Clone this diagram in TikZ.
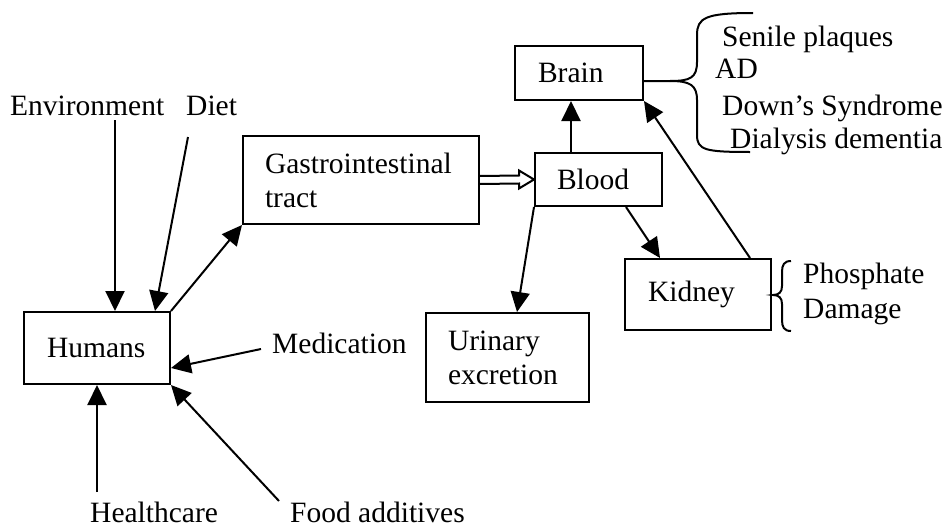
\documentclass[tikz,border=0pt]{standalone}
\usepackage{fontspec}
\setmainfont{Liberation Serif}
\usetikzlibrary{arrows.meta,calc}
\begin{document}
\begin{tikzpicture}[x=1pt,y=-1pt,
  txt/.style={font=\fontsize{29.5}{34}\selectfont, inner sep=0pt},
  box/.style={txt, draw, line width=2pt, align=left, inner ysep=0pt},
  lbl/.style={txt, anchor=base west},
  arr/.style={line width=2pt, -{Triangle[length=20pt,width=19pt]}},
  ln/.style={line width=2pt}]
\useasboundingbox (0,0) rectangle (949,527);

% boxes
\node[box, inner xsep=23pt, text width=100pt, minimum height=72pt] (hum) at (97,348) {Humans};
\node[box, inner xsep=22pt, text width=192pt, minimum height=88pt] (gi) at (361,180) {Gastrointestinal\\tract};
\node[box, inner xsep=22pt, text width=83pt, minimum height=53pt] (blood) at (598.5,179.5) {Blood};
\node[box, inner xsep=23pt, text width=82pt, minimum height=54pt] (brain) at (579,73) {Brain};
\node[box, inner xsep=23pt, text width=100pt, minimum height=71pt] (kid) at (698,294.5) {Kidney};
\node[box, inner xsep=22pt, text width=119pt, minimum height=89pt] (uri) at (507.5,357.5) {Urinary\\excretion};

% labels
\node[lbl] (env) at (10,115) {Environment};
\node[lbl] (diet) at (186,115) {Diet};
\node[lbl] (med) at (272,353) {Medication};
\node[lbl] (hc) at (90,522) {Healthcare};
\node[lbl] (fa) at (290,522) {Food additives};
\node[lbl] (sp) at (722,47) {Senile plaques};
\node[lbl] (ad) at (715,78) {AD};
\node[lbl] (ds) at (722,115) {Down’s Syndrome};
\node[lbl] (dd) at (730,148) {Dialysis dementia};
\node[lbl] (ph) at (803,283) {Phosphate};
\node[lbl] (dm) at (803,318) {Damage};

% arrow start points
\coordinate (envS) at (115,120);
\coordinate (dietS) at (188,137);
\coordinate (medS) at (261,349);
\coordinate (hcS) at (97,492);
\coordinate (faS) at (279,501);

\draw[arr] (envS) -- (envS |- hum.north);
\draw[arr] (dietS) -- ([xshift=58pt]hum.north);
\draw[arr] (hum.north east) -- (gi.south west);
\draw[arr] (medS) -- ([yshift=-20pt]hum.east);
\draw[arr] (hcS) -- (hcS |- hum.south);
\draw[arr] (faS) -- (hum.south east);

% hollow double arrow GI -> Blood
\draw[ln, line join=miter] ($(gi.east)+(0,-4)$) -- ($(blood.west)+(-15,-4)$) -- ($(blood.west)+(-15,-9)$)
  -- (blood.west) -- ($(blood.west)+(-15,9)$) -- ($(blood.west)+(-15,4)$) -- ($(gi.east)+(0,4)$);

\draw[arr] ([xshift=-27.5pt]blood.north) -- ([xshift=-27.5pt]blood.north |- brain.south);
\draw[arr] (blood.south west) -- ([xshift=9.5pt]uri.north);
\draw[arr] ([xshift=27.5pt]blood.south) -- ([xshift=-38pt]kid.north);
\draw[arr] ([xshift=52pt]kid.north) -- (brain.south east);

% brace at brain
\coordinate (bt) at (670,81);
\draw[ln] (brain.east |- bt) -- (bt) .. controls (690,81) and (697,78) .. (697,62) -- (697,35)
  .. controls (697,18) and (705,13) .. (753,13);
\draw[ln] (bt) .. controls (690,81) and (697,85) .. (697,100) -- (697,135)
  .. controls (697,150) and (705,152) .. (750,152);

% brace at kidney
\draw[ln] (791,261) .. controls (784,261) and (782,265) .. (782,272) -- (782,286)
  .. controls (782,292) and (779,295) .. (773,295)
  .. controls (779,295) and (782,298) .. (782,304) -- (782,320)
  .. controls (782,327) and (784,331) .. (791,331);
\end{tikzpicture}
\end{document}
